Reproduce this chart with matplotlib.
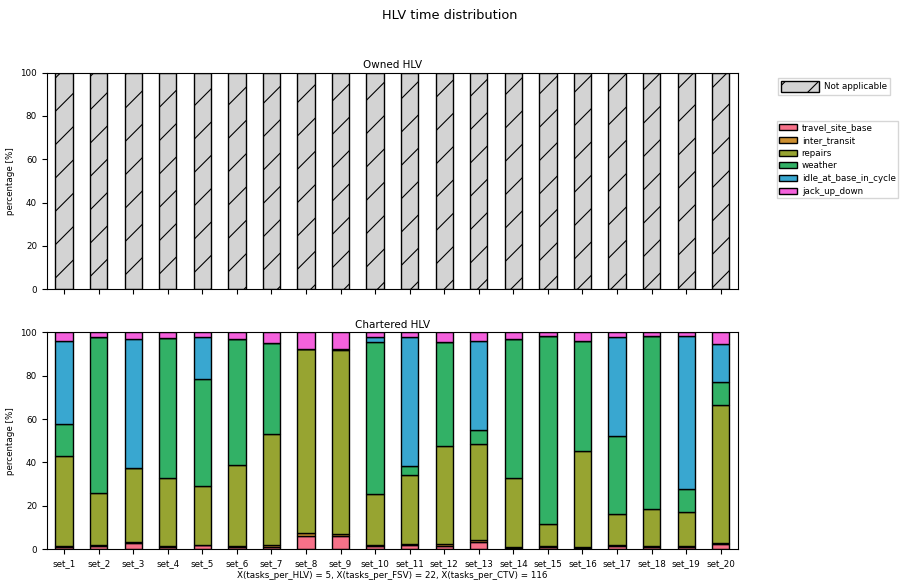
import matplotlib
matplotlib.use("Agg")
import matplotlib.pyplot as plt
import numpy as np
from matplotlib.patches import Patch

# sets of simulation runs
sets = ["set_%d" % i for i in range(1, 21)]

# chartered HLV time shares, percent of total time
travel_site_base = [1.0, 1.5, 2.8, 1.0, 1.8, 1.0, 1.0, 6.2, 6.2, 1.2,
                    1.8, 1.5, 3.4, 0.3, 0.9, 0.3, 1.2, 0.8, 0.8, 2.2]
inter_transit = [0.6, 0.3, 0.6, 0.5, 0.2, 0.5, 0.8, 1.1, 0.9, 0.6,
                 0.4, 0.7, 0.6, 0.5, 0.3, 0.6, 0.5, 0.4, 0.4, 0.6]
repairs = [41.3, 24.0, 34.1, 31.1, 27.3, 37.4, 51.4, 85.3, 84.9, 23.4,
           32.2, 45.3, 44.6, 32.1, 10.5, 44.5, 14.7, 17.5, 15.9, 63.6]
weather = [15.0, 72.3, 0.0, 64.8, 49.4, 58.0, 42.0, 0.0, 0.6, 70.5,
           3.9, 47.9, 6.5, 64.0, 86.9, 50.6, 35.9, 79.9, 10.5, 10.9]
idle_at_base_in_cycle = [38.1, 0.0, 59.3, 0.0, 19.4, 0.0, 0.0, 0.0, 0.0, 2.3,
                         59.4, 0.0, 41.2, 0.0, 0.0, 0.0, 45.8, 0.0, 71.0, 17.3]
jack_up_down = [4.0, 1.9, 3.2, 2.6, 1.9, 3.1, 4.8, 7.4, 7.4, 2.0,
                2.3, 4.6, 3.7, 3.1, 1.4, 4.0, 1.9, 1.4, 1.4, 5.4]

# owned HLV is not used in any set
not_applicable = [100] * 20

categories = ["travel_site_base", "inter_transit", "repairs", "weather",
              "idle_at_base_in_cycle", "jack_up_down"]
values = [travel_site_base, inter_transit, repairs, weather,
          idle_at_base_in_cycle, jack_up_down]
colors = ["#f77189", "#cc8f30", "#97a431", "#32b166", "#39a7d0", "#f461dc"]

fs = 6.3
plt.rcParams["font.size"] = fs
plt.rcParams["hatch.linewidth"] = 0.8

fig, (ax1, ax2) = plt.subplots(2, 1, figsize=(9, 5.81), dpi=100)
fig.subplots_adjust(left=0.052, right=0.82, top=0.875, bottom=0.055, hspace=0.2)
fig.suptitle("HLV time distribution", fontsize=9.3, y=0.985)

x = np.arange(len(sets))
w = 0.5

# owned HLV
ax1.bar(x, not_applicable, w, color="lightgrey", edgecolor="black", hatch="/",
        lw=1)
ax1.set_title("Owned HLV", fontsize=7.5, pad=3)
ax1.set_ylabel("percentage [%]", fontsize=fs)
ax1.set_ylim(0, 100)
ax1.set_xlim(-0.5, len(sets) - 0.5)
ax1.set_xticks(x)
ax1.set_xticklabels([])
ax1.tick_params(labelsize=fs)
fig.legend(handles=[Patch(facecolor="lightgrey", edgecolor="black", hatch="/",
                          label="Not applicable")],
           loc="upper left", bbox_to_anchor=(0.864, 0.866), borderaxespad=0,
           fontsize=fs, fancybox=False, handlelength=4.4, handleheight=1.5,
           handletextpad=0.6, borderpad=0.35)

# chartered HLV
bottom = np.zeros(len(sets))
for cat, vals, c in zip(categories, values, colors):
    vals = np.array(vals)
    ax2.bar(x, vals, w, bottom=bottom, color=c, edgecolor="black", lw=1,
            label=cat)
    bottom += vals
ax2.set_title("Chartered HLV", fontsize=7.5, pad=3)
ax2.set_ylabel("percentage [%]", fontsize=fs)
ax2.set_ylim(0, 100)
ax2.set_xlim(-0.5, len(sets) - 0.5)
ax2.set_xticks(x)
ax2.set_xticklabels(sets, fontsize=fs)
ax2.tick_params(labelsize=fs)
ax2.set_xlabel("X(tasks_per_HLV) = 5, X(tasks_per_FSV) = 22, X(tasks_per_CTV) = 116",
               fontsize=fs, labelpad=2)
fig.legend(*ax2.get_legend_handles_labels(), loc="upper left",
           bbox_to_anchor=(0.863, 0.792), borderaxespad=0, fontsize=fs,
           fancybox=False, handlelength=2.0, handleheight=0.7,
           labelspacing=0.42, handletextpad=0.55, borderpad=0.3)

fig.savefig("out.png", dpi=100)
